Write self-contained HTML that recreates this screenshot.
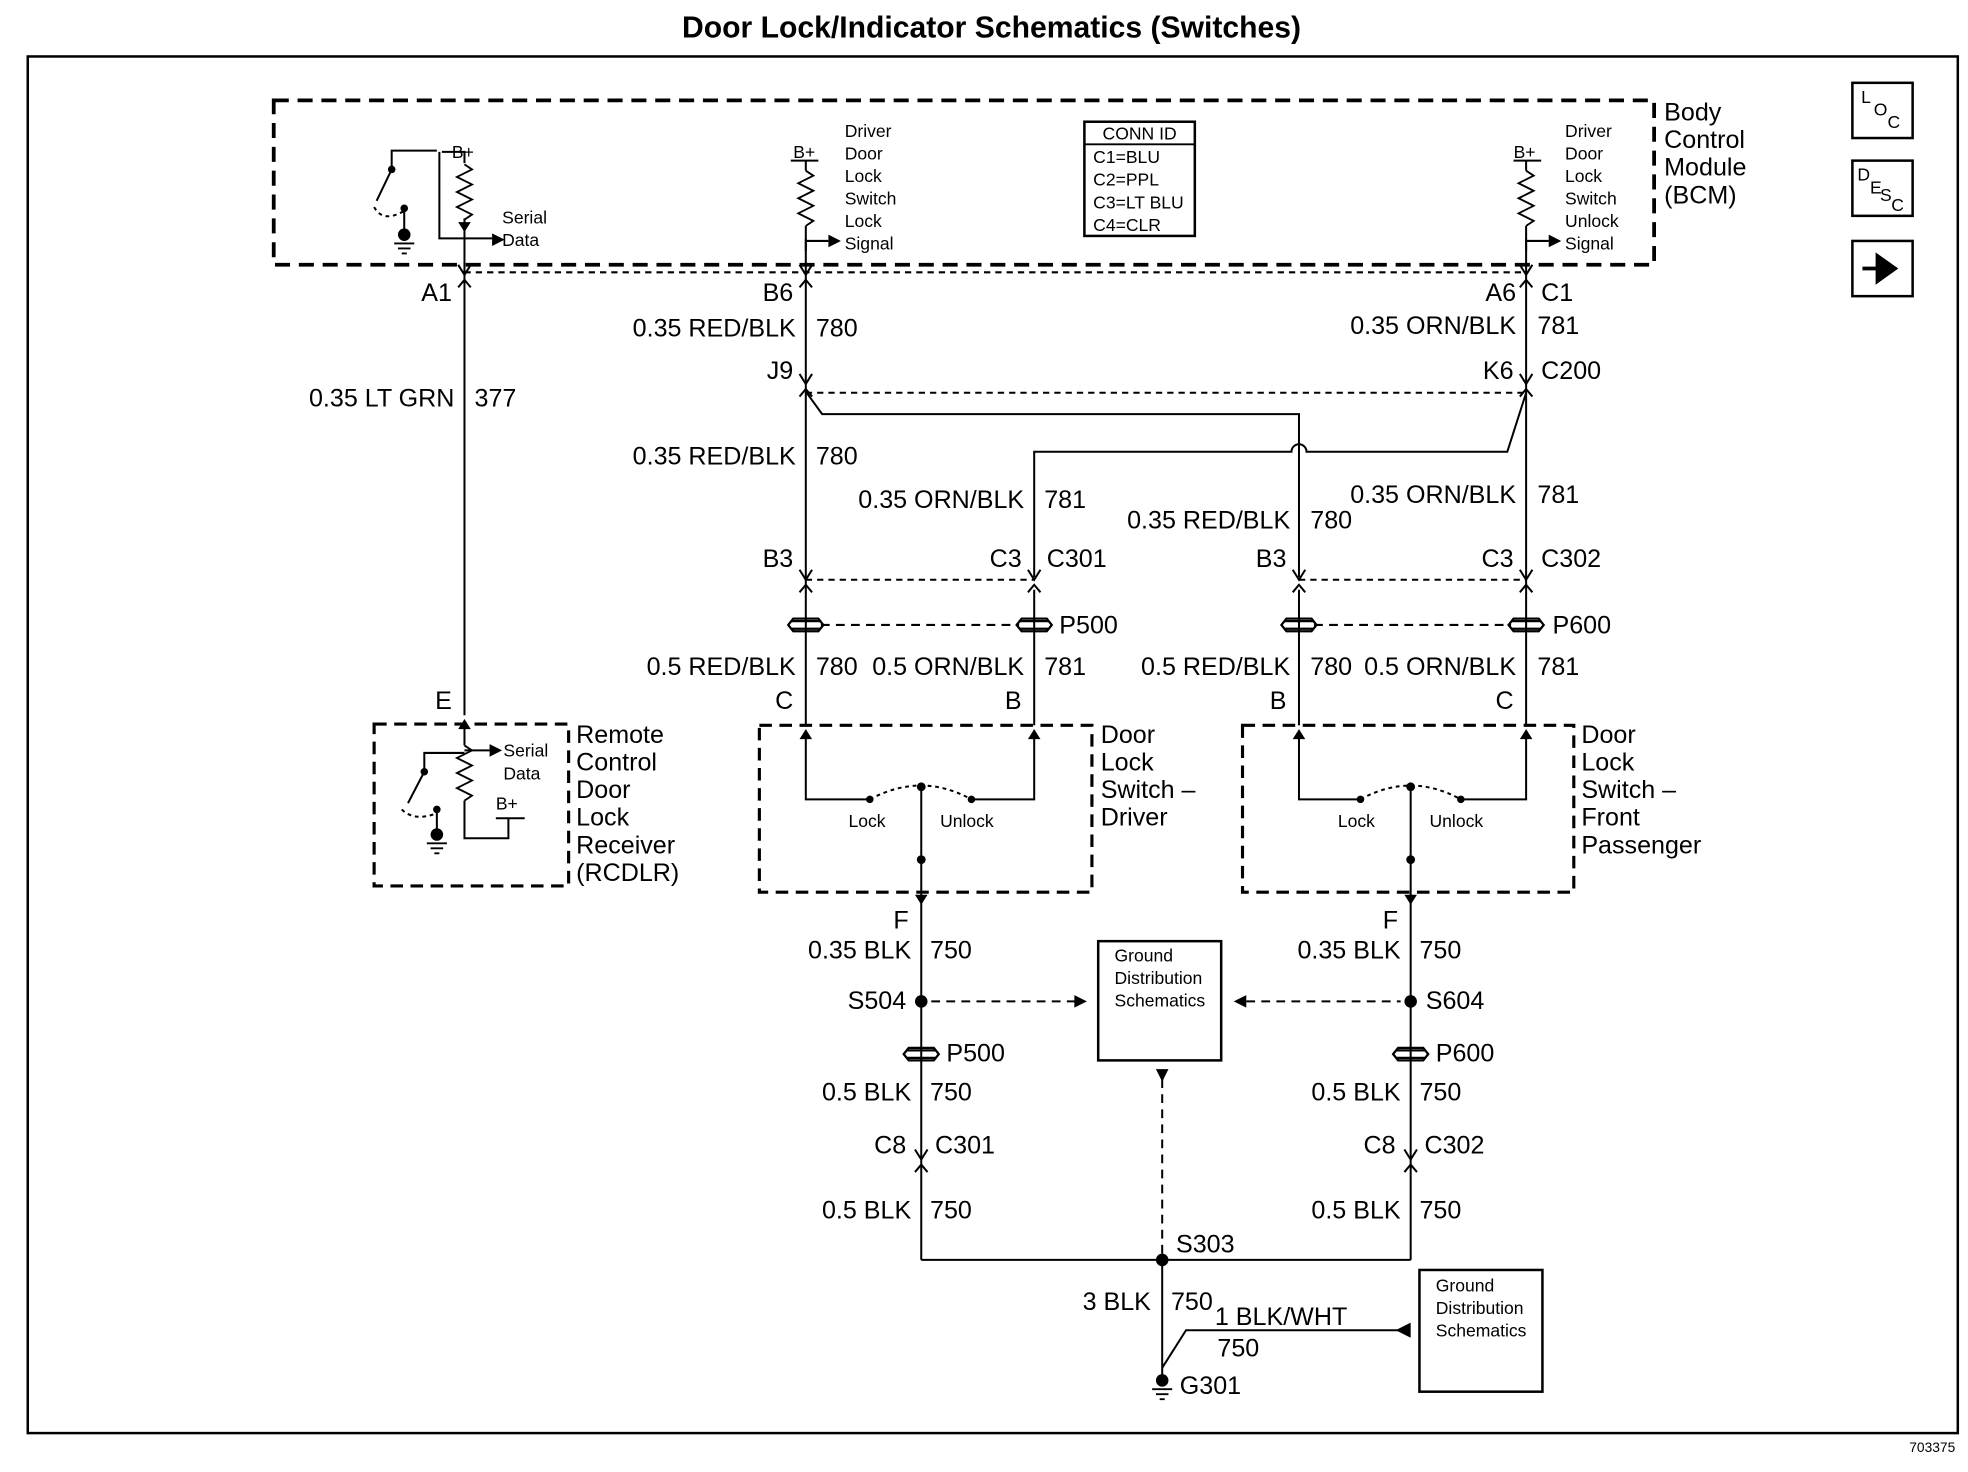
<!DOCTYPE html>
<html><head><meta charset="utf-8"><style>
html,body{margin:0;padding:0;background:#fff}
svg{display:block}
text{font-family:"Liberation Sans",Arial,sans-serif;fill:#000}
.l{font-size:20px}
.s{font-size:14px}
.r{text-anchor:end}
</style></head><body>
<svg width="1968" height="1472" viewBox="0 0 1568 1173" xmlns="http://www.w3.org/2000/svg">
<defs>
<g id="fv"><path d="M-5,-8 L0,0 L5,-8" fill="none" stroke="#000" stroke-width="1.6"/><path d="M-5,10 L0,4 L5,10" fill="none" stroke="#000" stroke-width="1.6"/></g>
<g id="pc"><path d="M-12,-3 H12 M-12,3 H12 M-14,0 L-10,-5 H10 L14,0 L10,5 H-10 Z" fill="none" stroke="#000" stroke-width="1.8"/></g>
<g id="rs"><path d="M0,0 L6,4 L-6,10 L6,16 L-6,22 L6,28 L-6,34 L6,40 L0,44" fill="none" stroke="#000" stroke-width="1.5"/></g>
</defs>
<g stroke="#000" fill="none">
<rect x="22" y="45" width="1538" height="1097" stroke-width="2"/>
<rect x="218" y="80" width="1100" height="131" stroke-width="3" stroke-dasharray="12,7"/>
<rect x="864" y="97" width="88" height="91" stroke-width="2"/>
<line x1="864" y1="115" x2="952" y2="115" stroke-width="1.5"/>
<rect x="1476" y="66" width="48" height="44" stroke-width="2"/>
<rect x="1476" y="128" width="48" height="44" stroke-width="2"/>
<rect x="1476" y="192" width="48" height="44" stroke-width="2"/>
<rect x="298" y="577" width="155" height="129" stroke-width="2.5" stroke-dasharray="10,6"/>
<rect x="605" y="578" width="265" height="133" stroke-width="2.5" stroke-dasharray="10,6"/>
<rect x="990" y="578" width="264" height="133" stroke-width="2.5" stroke-dasharray="10,6"/>
<rect x="875" y="750" width="98" height="95" stroke-width="2"/>
<rect x="1131" y="1012" width="98" height="97" stroke-width="2"/>
<g stroke-width="1.6">
<line x1="370" y1="217" x2="1216" y2="217" stroke-dasharray="5,4"/>
<line x1="642" y1="313" x2="1216" y2="313" stroke-dasharray="5,4"/>
<line x1="642" y1="462" x2="824" y2="462" stroke-dasharray="5,4"/>
<line x1="1035" y1="462" x2="1216" y2="462" stroke-dasharray="5,4"/>
<line x1="654" y1="498" x2="812" y2="498" stroke-dasharray="7,5"/>
<line x1="1047" y1="498" x2="1204" y2="498" stroke-dasharray="7,5"/>
<line x1="742" y1="798" x2="862" y2="798" stroke-dasharray="7,5"/>
<line x1="993" y1="798" x2="1116" y2="798" stroke-dasharray="7,5"/>
<line x1="926" y1="860" x2="926" y2="1004" stroke-dasharray="7,5"/>
<line x1="370" y1="190" x2="370" y2="570"/>
<line x1="642" y1="190" x2="642" y2="578"/>
<line x1="824" y1="470" x2="824" y2="578"/>
<line x1="1216" y1="190" x2="1216" y2="578"/>
<line x1="1035" y1="470" x2="1035" y2="578"/>
<path d="M642,312 L655,330 H1035 V460"/>
<path d="M1216,313 L1201,360 H1041 A6,6 0 0 0 1029,360 H824 V460"/>
<path d="M642,582 V637 H693 M824,582 V637 H774 M1035,582 V637 H1084 M1216,582 V637 H1164"/>
<path d="M693,637 Q734,615 774,637 M1084,637 Q1124,615 1164,637" stroke-dasharray="3,3"/>
<line x1="734" y1="627" x2="734" y2="1004"/>
<line x1="1124" y1="627" x2="1124" y2="1004"/>
<path d="M734,1004 H1124"/>
<path d="M926,1004 V1098 M926,1090 L945,1060 H1118"/>
<path d="M352,121 H370 V130 M370,174 V190 M350,121 V190 H392"/>
<path d="M312,135 V120 H348 M312,135 L300,160 M322,165 V185"/>
<path d="M298,165 Q305,178 322,168" stroke-dasharray="3,3"/>
<path d="M630,128 H652 M642,128 V136 M642,180 V200 M642,192 H660"/>
<path d="M1206,128 H1228 M1216,128 V136 M1216,180 V200 M1216,192 H1234"/>
<path d="M370,580 V594 M370,638 V668 H405 V652 M395,652 H418 M370,600 H338 V615 L325,640 M348,645 V662 M370,598 H390"/>
<path d="M320,645 Q330,655 348,648" stroke-dasharray="3,3"/>
</g>
<use href="#rs" x="370" y="131"/><use href="#rs" x="642" y="136"/><use href="#rs" x="1216" y="136"/><use href="#rs" x="370" y="594"/>
<use href="#fv" x="370" y="219"/><use href="#fv" x="642" y="219"/><use href="#fv" x="1216" y="219"/>
<use href="#fv" x="642" y="306"/><use href="#fv" x="1216" y="306"/>
<use href="#fv" x="642" y="462"/><use href="#fv" x="824" y="462"/><use href="#fv" x="1035" y="462"/><use href="#fv" x="1216" y="462"/>
<use href="#fv" x="734" y="924"/><use href="#fv" x="1124" y="924"/>
<use href="#pc" x="642" y="498"/><use href="#pc" x="824" y="498"/><use href="#pc" x="1035" y="498"/><use href="#pc" x="1216" y="498"/>
<use href="#pc" x="734" y="840"/><use href="#pc" x="1124" y="840"/>
<path d="M1484,214 H1502 M1496,204 L1510,214 L1496,224 Z" stroke-width="3" fill="#000"/>
</g>
<g fill="#000">
<path d="M370,573 l-5,8 h10z M642,581 l-5,8 h10z M824,581 l-5,8 h10z M1035,581 l-5,8 h10z M1216,581 l-5,8 h10z M734,721 l-5,-8 h10z M1124,721 l-5,-8 h10z"/>
<path d="M392,186 l10,5 l-10,5z M660,187 l10,5 l-10,5z M1234,187 l10,5 l-10,5z M390,593 l10,5 l-10,5z M370,185 l-5,-8 h10z"/>
<path d="M866,798 l-10,-5 v10z M983,798 l10,-5 v10z M926,862 l-5,-10 h10z M1112,1060 l12,-6 v12z"/>
<circle cx="734" cy="627" r="3.5"/><circle cx="734" cy="685" r="3.5"/><circle cx="1124" cy="627" r="3.5"/><circle cx="1124" cy="685" r="3.5"/>
<circle cx="693" cy="637" r="3"/><circle cx="774" cy="637" r="3"/><circle cx="1084" cy="637" r="3"/><circle cx="1164" cy="637" r="3"/>
<circle cx="734" cy="798" r="5"/><circle cx="1124" cy="798" r="5"/><circle cx="926" cy="1004" r="5"/>
<circle cx="312" cy="135" r="3"/><circle cx="322" cy="166" r="3"/><circle cx="338" cy="615" r="3"/><circle cx="348" cy="645" r="3"/>
<circle cx="322" cy="187" r="5"/><circle cx="348" cy="665" r="5"/><circle cx="926" cy="1100" r="5"/>
</g>
<g stroke="#000" stroke-width="1.5"><path d="M314,194 h16 M317,198 h10 M320,202 h4 M340,672 h16 M343,676 h10 M346,680 h4 M918,1107 h16 M921,1111 h10 M924,1115 h4"/></g>

<text x="790" y="30" text-anchor="middle" style="font-size:24px;font-weight:bold">Door Lock/Indicator Schematics (Switches)</text>
<text x="1558" y="1157" text-anchor="end" style="font-size:11px">703375</text>
<g class="l">
<text x="1326" y="96">Body</text><text x="1326" y="118">Control</text><text x="1326" y="140">Module</text><text x="1326" y="162">(BCM)</text>
<text x="459" y="592">Remote</text><text x="459" y="614">Control</text><text x="459" y="636">Door</text><text x="459" y="658">Lock</text><text x="459" y="680">Receiver</text><text x="459" y="702">(RCDLR)</text>
<text x="877" y="592">Door</text><text x="877" y="614">Lock</text><text x="877" y="636">Switch –</text><text x="877" y="658">Driver</text>
<text x="1260" y="592">Door</text><text x="1260" y="614">Lock</text><text x="1260" y="636">Switch –</text><text x="1260" y="658">Front</text><text x="1260" y="680">Passenger</text>
<text x="360" y="240" class="r">A1</text>
<text x="362" y="324" class="r">0.35 LT GRN</text><text x="378" y="324">377</text>
<text x="360" y="565" class="r">E</text>
<text x="632" y="240" class="r">B6</text>
<text x="634" y="268" class="r">0.35 RED/BLK</text><text x="650" y="268">780</text>
<text x="632" y="302" class="r">J9</text>
<text x="634" y="370" class="r">0.35 RED/BLK</text><text x="650" y="370">780</text>
<text x="816" y="405" class="r">0.35 ORN/BLK</text><text x="832" y="405">781</text>
<text x="632" y="452" class="r">B3</text><text x="814" y="452" class="r">C3</text><text x="834" y="452">C301</text>
<text x="844" y="505">P500</text>
<text x="634" y="538" class="r">0.5 RED/BLK</text><text x="650" y="538">780</text>
<text x="816" y="538" class="r">0.5 ORN/BLK</text><text x="832" y="538">781</text>
<text x="632" y="565" class="r">C</text><text x="814" y="565" class="r">B</text>
<text x="1208" y="240" class="r">A6</text><text x="1228" y="240">C1</text>
<text x="1208" y="266" class="r">0.35 ORN/BLK</text><text x="1225" y="266">781</text>
<text x="1206" y="302" class="r">K6</text><text x="1228" y="302">C200</text>
<text x="1208" y="401" class="r">0.35 ORN/BLK</text><text x="1225" y="401">781</text>
<text x="1028" y="421" class="r">0.35 RED/BLK</text><text x="1044" y="421">780</text>
<text x="1025" y="452" class="r">B3</text><text x="1206" y="452" class="r">C3</text><text x="1228" y="452">C302</text>
<text x="1237" y="505">P600</text>
<text x="1028" y="538" class="r">0.5 RED/BLK</text><text x="1044" y="538">780</text>
<text x="1208" y="538" class="r">0.5 ORN/BLK</text><text x="1225" y="538">781</text>
<text x="1025" y="565" class="r">B</text><text x="1206" y="565" class="r">C</text>
<text x="724" y="740" class="r">F</text><text x="1114" y="740" class="r">F</text>
<text x="726" y="764" class="r">0.35 BLK</text><text x="741" y="764">750</text>
<text x="1116" y="764" class="r">0.35 BLK</text><text x="1131" y="764">750</text>
<text x="722" y="804" class="r">S504</text><text x="1136" y="804">S604</text>
<text x="754" y="846">P500</text><text x="1144" y="846">P600</text>
<text x="726" y="877" class="r">0.5 BLK</text><text x="741" y="877">750</text>
<text x="1116" y="877" class="r">0.5 BLK</text><text x="1131" y="877">750</text>
<text x="722" y="919" class="r">C8</text><text x="745" y="919">C301</text>
<text x="1112" y="919" class="r">C8</text><text x="1135" y="919">C302</text>
<text x="726" y="971" class="r">0.5 BLK</text><text x="741" y="971">750</text>
<text x="1116" y="971" class="r">0.5 BLK</text><text x="1131" y="971">750</text>
<text x="937" y="998">S303</text>
<text x="917" y="1044" class="r">3 BLK</text><text x="933" y="1044">750</text>
<text x="968" y="1056">1 BLK/WHT</text><text x="970" y="1081">750</text>
<text x="940" y="1111">G301</text>
</g>
<g class="s">
<text x="400" y="178">Serial</text><text x="400" y="196">Data</text>
<text x="401" y="603">Serial</text><text x="401" y="621">Data</text><text x="395" y="645">B+</text>
<text x="360" y="126">B+</text><text x="632" y="126">B+</text><text x="1206" y="126">B+</text>
<text x="673" y="109">Driver</text><text x="673" y="127">Door</text><text x="673" y="145">Lock</text><text x="673" y="163">Switch</text><text x="673" y="181">Lock</text><text x="673" y="199">Signal</text>
<text x="1247" y="109">Driver</text><text x="1247" y="127">Door</text><text x="1247" y="145">Lock</text><text x="1247" y="163">Switch</text><text x="1247" y="181">Unlock</text><text x="1247" y="199">Signal</text>
<text x="908" y="111" text-anchor="middle">CONN ID</text>
<text x="871" y="130">C1=BLU</text><text x="871" y="148">C2=PPL</text><text x="871" y="166">C3=LT BLU</text><text x="871" y="184">C4=CLR</text>
<text x="676" y="659">Lock</text><text x="749" y="659">Unlock</text>
<text x="1066" y="659">Lock</text><text x="1139" y="659">Unlock</text>
<text x="888" y="766">Ground</text><text x="888" y="784">Distribution</text><text x="888" y="802">Schematics</text>
<text x="1144" y="1029">Ground</text><text x="1144" y="1047">Distribution</text><text x="1144" y="1065">Schematics</text>
<text x="1483" y="82">L</text><text x="1493" y="92">O</text><text x="1504" y="102">C</text>
<text x="1480" y="144">D</text><text x="1490" y="154">E</text><text x="1498" y="160">S</text><text x="1507" y="168">C</text>
</g>
</svg>
</body></html>
